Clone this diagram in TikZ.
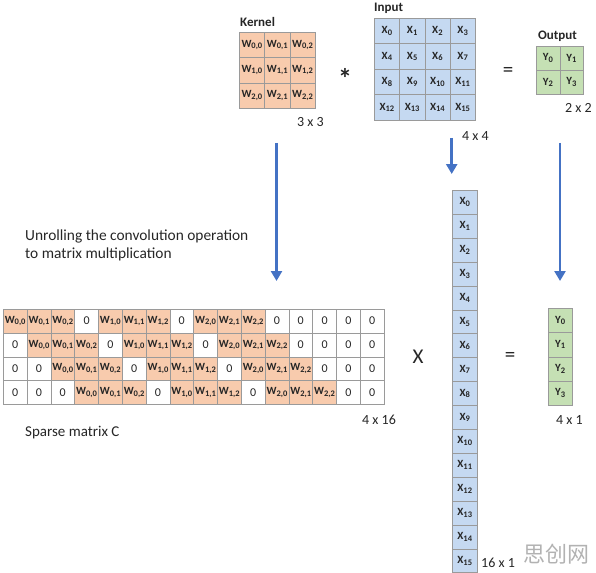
\documentclass[tikz,border=0pt]{standalone}
\usepackage{fontspec}
\setmainfont{Carlito}
\newfontfamily\cjkfont{Noto Sans CJK SC}
\usetikzlibrary{arrows.meta}
\definecolor{kfill}{HTML}{F8CBAD}
\definecolor{ifill}{HTML}{C5D9F1}
\definecolor{ofill}{HTML}{C5E0B4}
\definecolor{arrowblue}{HTML}{4472C4}
\definecolor{gridc}{HTML}{9A9A9A}
\definecolor{txt}{HTML}{262626}
\newcommand\subsc[1]{\raisebox{-0.3ex}{\fontsize{8.5}{9}\selectfont #1}}
\newcommand\wl[2]{W\subsc{#1,#2}}
\newcommand\xl[1]{X\subsc{#1}}
\newcommand\yl[1]{Y\subsc{#1}}
\tikzset{
  cellbase/.style={draw=gridc, line width=0.5pt, inner sep=0pt, anchor=north west,
    text=txt, font=\fontsize{11}{12}\selectfont\bfseries},
  kcell/.style={cellbase, fill=kfill, minimum width=25.3pt, minimum height=25.3pt},
  icell/.style={cellbase, fill=ifill, minimum width=25.25pt, minimum height=25.5pt},
  ocell/.style={cellbase, fill=ofill, minimum width=23.5pt, minimum height=24pt},
  scell/.style={cellbase, minimum width=23.8pt, minimum height=23.75pt},
  zcell/.style={scell, fill=white, font=\fontsize{12}{13}\selectfont},
  xcell/.style={cellbase, fill=ifill, minimum width=25pt, minimum height=23.9pt},
  ycell/.style={cellbase, fill=ofill, minimum width=24pt, minimum height=24.25pt},
  title/.style={font=\fontsize{13}{14}\selectfont\bfseries, text=txt, inner sep=0pt, anchor=west},
  dimlbl/.style={font=\fontsize{14}{15}\selectfont, text=txt, inner sep=0pt, anchor=west},
  bigop/.style={font=\fontsize{21}{23}\selectfont, text=txt, inner sep=0pt},
  blarrow/.style={draw=arrowblue, line width=2.8pt, -{Triangle[length=10pt,width=11pt]}},
}
\begin{document}
\begin{tikzpicture}[x=1pt,y=-1pt]
\useasboundingbox (0,0) rectangle (596,572);
% Kernel
\node[title] (kt) at (240,22) {Kernel};
\foreach \i in {0,1,2}{\foreach \j in {0,1,2}{
  \node[kcell] (k\i\j) at ({239+25.3*\j},{32+25.3*\i}) {\wl{\i}{\j}};
}}
\node[dimlbl] (kd) at (297,122) {3 x 3};
\node[bigop, font=\fontsize{28}{30}\selectfont\bfseries] (star) at (345,78) {*};
% Input
\node[title] (it) at (374,8) {Input};
\foreach \i in {0,...,3}{\foreach \j in {0,...,3}{
  \pgfmathtruncatemacro\n{4*\i+\j}
  \node[icell] (in\n) at ({374+25.25*\j},{18+25.5*\i}) {\xl{\n}};
}}
\node[dimlbl] (id) at (462,136) {4 x 4};
\node[bigop] (eq1) at (508,72) {=};
% Output
\node[title] (ot) at (538,36) {Output};
\foreach \i in {0,1}{\foreach \j in {0,1}{
  \pgfmathtruncatemacro\n{2*\i+\j}
  \node[ocell] (o\n) at ({536+23.5*\j},{46+24*\i}) {\yl{\n}};
}}
\node[dimlbl] (od) at (565,108) {2 x 2};
% Arrows
\coordinate (a1s) at (276.5,143); \coordinate (a1e) at (276.5,281);
\coordinate (a2s) at (451.7,138); \coordinate (a2e) at (451.7,174);
\coordinate (a3s) at (560,143);   \coordinate (a3e) at (560,281);
\draw[blarrow] (a1s) -- (a1e);
\draw[blarrow] (a2s) -- (a2e);
\draw[blarrow] (a3s) -- (a3e);
% Explanation
\node[font=\fontsize{15.4}{18}\selectfont, text=txt, align=left, anchor=north west, inner sep=0pt] (expl) at (25,230)
  {Unrolling the convolution operation\\to matrix multiplication};
% Sparse matrix
\foreach \r in {0,...,3}{\foreach \c in {0,...,15}{
  \pgfmathtruncatemacro\d{\c-\r}
  \pgfmathtruncatemacro\a{floor(\d/4)}
  \pgfmathtruncatemacro\b{\d-4*\a}
  \pgfmathtruncatemacro\isw{and(and(\d>=0,\d<=10),\b<=2)}
  \ifnum\isw=1
    \node[scell, fill=kfill] (s\r-\c) at ({3+23.8*\c},{309+23.75*\r}) {\wl{\a}{\b}};
  \else
    \node[zcell] (s\r-\c) at ({3+23.8*\c},{309+23.75*\r}) {0};
  \fi
}}
\node[dimlbl] (sd) at (362,420) {4 x 16};
\node[dimlbl, font=\fontsize{15}{16}\selectfont] (sl) at (25,433) {Sparse matrix C};
\node[bigop] (times) at (418,357) {X};
% Column X
\foreach \n in {0,...,15}{
  \node[xcell] (x\n) at (452,{190+23.9*\n}) {\xl{\n}};
}
\node[dimlbl] (xd) at (481,563) {16 x 1};
\node[bigop] (eq2) at (510,357) {=};
% Column Y
\foreach \n in {0,...,3}{
  \node[ycell] (y\n) at (548,{308+24.25*\n}) {\yl{\n}};
}
\node[dimlbl] (yd) at (556,420) {4 x 1};
% Watermark
\node[font=\cjkfont\fontsize{22}{24}\selectfont, text=black!30, inner sep=0pt] (wm) at (556,554) {思创网};
\end{tikzpicture}
\end{document}
